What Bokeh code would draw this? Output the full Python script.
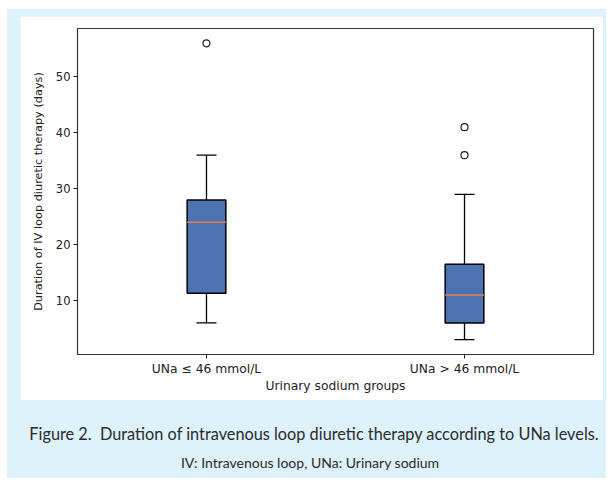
from bokeh.plotting import figure
from bokeh.models import Range1d, FactorRange, FixedTicker, ColumnDataSource, Div
from bokeh.transform import dodge
from bokeh.layouts import column
from bokeh.embed import file_html
from bokeh.resources import INLINE

# ---- data ----
groups = ["UNa \u2264 46 mmol/L", "UNa > 46 mmol/L"]
whisker_low = [6, 3]
q1 = [11.3, 6]
median = [24, 11]
q3 = [28, 16.5]
whisker_high = [36, 29]
outlier_groups = ["UNa \u2264 46 mmol/L", "UNa > 46 mmol/L", "UNa > 46 mmol/L"]
outlier_values = [56, 41, 36]
y_ticks = [10, 20, 30, 40, 50]

caption_title = "Figure 2.&nbsp; Duration of intravenous loop diuretic therapy according to UNa levels."
caption_note = "IV: Intravenous loop, UNa: Urinary sodium"

BLUE_BG = "#ddf2fb"
BOX = "#4c72b0"
MED = "#dd8452"

src = ColumnDataSource(dict(g=groups, lo=whisker_low, q1=q1, med=median, q3=q3, hi=whisker_high))
osrc = ColumnDataSource(dict(g=outlier_groups, v=outlier_values))

p = figure(width=583, height=384, x_range=FactorRange(*groups, range_padding=0),
           y_range=Range1d(0.35, 58.65), output_backend="svg", toolbar_location=None,
           min_border_left=57, min_border_right=10, min_border_top=12, min_border_bottom=46,
           margin=(7, 3, 0, 13))
p.background_fill_color = "white"
p.border_fill_color = "white"
p.outline_line_color = "#333333"
p.outline_line_width = 1.2
p.xgrid.grid_line_color = None
p.ygrid.grid_line_color = None

# whiskers
p.segment(x0="g", y0="q3", x1="g", y1="hi", source=src, line_color="black", line_width=1.3)
p.segment(x0="g", y0="lo", x1="g", y1="q1", source=src, line_color="black", line_width=1.3)
# caps
p.scatter(x="g", y="hi", source=src, marker="dash", size=20, line_color="black", line_width=1.3)
p.scatter(x="g", y="lo", source=src, marker="dash", size=20, line_color="black", line_width=1.3)
# boxes
p.vbar(x="g", width=0.15, bottom="q1", top="q3", source=src, fill_color=BOX,
       line_color="black", line_width=1.5)
# medians
p.segment(x0=dodge("g", -0.075, range=p.x_range), y0="med",
          x1=dodge("g", 0.075, range=p.x_range), y1="med",
          source=src, line_color=MED, line_width=1.5)
# outliers
p.scatter(x="g", y="v", source=osrc, marker="circle", size=7, fill_color=None,
          line_color="#222222", line_width=1.2)

for ax in (p.xaxis[0], p.yaxis[0]):
    ax.axis_line_color = None
    ax.major_tick_line_color = "#222222"
    ax.major_tick_in = 0
    ax.major_tick_out = 4
    ax.minor_tick_line_color = None
    ax.major_label_text_font = "DejaVu Sans"
    ax.major_label_text_color = "#222222"
    ax.axis_label_text_font = "DejaVu Sans"
    ax.axis_label_text_font_style = "normal"
    ax.axis_label_text_color = "#222222"

p.yaxis.ticker = FixedTicker(ticks=y_ticks)
p.yaxis.major_label_text_font_size = "11.5px"
p.yaxis.axis_label = "Duration of IV loop diuretic therapy (days)"
p.yaxis.axis_label_text_font_size = "11.3px"
p.yaxis.major_label_standoff = 3
p.yaxis.axis_label_standoff = 8

p.xaxis.axis_label = "Urinary sodium groups"
p.xaxis.major_label_text_font_size = "12.3px"
p.xaxis.axis_label_text_font_size = "12.3px"
p.xaxis.major_label_standoff = 3
p.xaxis.axis_label_standoff = 0

# caption panel (HTML text, not a plot, so it is not border-aligned with the chart)
cap_html = (
    '<div style="width:599px; text-align:center; color:#2b2b2b; font-family:Lato, sans-serif;">'
    '<div style="font-size:16.3px; line-height:20px; padding-top:24px; padding-left:15px; white-space:nowrap;">'
    + caption_title + '</div>'
    '<div style="font-size:14px; line-height:16px; margin-top:11px; padding-left:7px; white-space:nowrap;">'
    + caption_note + '</div></div>'
)
cap = Div(text=cap_html, width=599, height=78, margin=(0, 0, 0, 0),
          styles={"background-color": BLUE_BG})

layout = column(p, cap, spacing=0, margin=(9, 0, 0, 7), styles={"background-color": BLUE_BG})

open("out.html", "w").write(file_html(layout, INLINE))
